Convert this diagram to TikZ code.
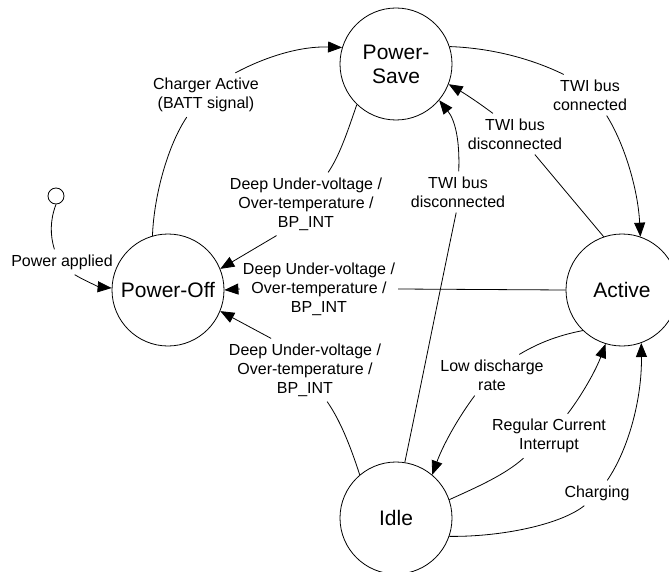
\documentclass[tikz,border=0pt]{standalone}
\usepackage{fontspec}
\setmainfont{Liberation Sans}
\usetikzlibrary{arrows.meta}
\begin{document}
\begin{tikzpicture}[x=1pt,y=-1pt,
  state/.style={circle,draw,line width=0.8pt,minimum size=112pt,inner sep=0pt,align=center,font=\fontsize{21}{24}\selectfont},
  initstate/.style={circle,draw,line width=0.8pt,minimum size=16pt,inner sep=0pt},
  lbl/.style={align=center,inner sep=5pt,font=\fontsize{16}{19}\selectfont},
  link/.style={line width=0.8pt},
  trans/.style={link,-{Triangle[length=14pt,width=11pt]}}]
\useasboundingbox (0,0) rectangle (669,572);

% states
\node[state] (ps) at (396,64) {Power-\\Save};
\node[state] (po) at (168,290) {Power-Off};
\node[state] (ac) at (622,290) {Active};
\node[state] (id) at (396,518) {Idle};
\node[initstate] (init) at (56,196) {};

% transition labels
\node[lbl] (pa)   at (62,262)  {Power applied};
\node[lbl] (cha)  at (206,95)  {Charger Active\\(BATT signal)};
\node[lbl] (du1)  at (306,204) {Deep Under-voltage /\\Over-temperature /\\BP\_INT};
\node[lbl,inner xsep=3pt] (du2) at (319,289) {Deep Under-voltage /\\Over-temperature /\\BP\_INT};
\node[lbl] (du3)  at (305,370) {Deep Under-voltage /\\Over-temperature /\\BP\_INT};
\node[lbl] (twc)  at (590,95)  {TWI bus\\connected};
\node[lbl] (twd1) at (515,134) {TWI bus\\disconnected};
\node[lbl] (twd2) at (458,192) {TWI bus\\disconnected};
\node[lbl] (low)  at (492,375) {Low discharge\\rate};
\node[lbl] (rci)  at (549,436) {Regular Current\\Interrupt};
\node[lbl] (chg)  at (597,493) {Charging};

% power applied
\draw[link] (init.south) .. controls (50,220) and (50,235) .. (pa.121);
\draw[trans] (pa.-45) .. controls (85,281) and (100,287) .. (po.178);

% charger active
\draw[link] (po.106) .. controls (154,195) and (168,145) .. (cha.-131);
\draw[trans] (cha.37) .. controls (265,57) and (300,46) .. (ps.163);

% fault transitions into power-off
\draw[link] (ps.226) .. controls (348,130) and (340,155) .. (du1.55);
\draw[trans] (du1.-133) -- (po.22);
\draw[link] (ac.180) -- (du2.east);
\draw[trans] (du2.west) -- (po.0);
\draw[link] (id.130) .. controls (350,445) and (340,420) .. (du3.-55);
\draw[trans] (du3.137) -- (po.-22);

% TWI bus transitions
\draw[link] (ps.18) .. controls (490,48) and (530,58) .. (twc.142);
\draw[trans] (twc.-51) .. controls (625,145) and (638,190) .. (ac.71);
\draw[link] (ac.109) -- (twd1.-46);
\draw[trans] (twd1.137) .. controls (475,100) and (462,92) .. (ps.-21);
\draw[link] (id.81) .. controls (420,390) and (440,290) .. (twd2.-95);
\draw[trans] (twd2.88) .. controls (460,140) and (455,120) .. (ps.-40);

% active / idle transitions
\draw[link] (ac.226) .. controls (560,335) and (540,342) .. (low.37);
\draw[trans] (low.-130) .. controls (458,418) and (443,445) .. (id.50);
\draw[link] (id.19) .. controls (475,488) and (505,475) .. (rci.-139);
\draw[trans] (rci.50) .. controls (582,395) and (596,370) .. (ac.-107);
\draw[link] (id.-19) .. controls (500,537) and (560,525) .. (chg.-135);
\draw[trans] (chg.51) .. controls (628,450) and (642,400) .. (ac.-70);
\end{tikzpicture}
\end{document}
